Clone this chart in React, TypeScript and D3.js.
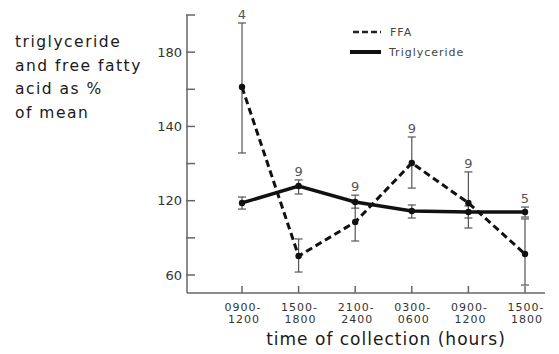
import React from 'react'
import * as d3 from 'd3'

// collection periods (two-line tick labels)
const periods = ['0900-|1200', '1500-|1800', '2100-|2400', '0300-|0600', '0900-|1200', '1500-|1800']

// free fatty acid, % of mean, with error bar ends
const ffaMean = [161.2, 70.2, 88.5, 120.3, 98.8, 71.3]
const ffaHigh = [195.7, 79.4, 98.8, 134.3, 115.5, 90.2]
const ffaLow = [125.7, 61.6, 78.3, 106.8, 85.3, 54.6]

// triglyceride, % of mean
const triMean = [98.8, 107.9, 99.3, 94.5, 93.9, 93.9]
const triHigh = [102, 111.2, 103, 97.7, 97.2, 96.6]
const triLow = [95.5, 103.6, 96, 90.7, 90.7, 91.2]

// number of subjects, and which series the label sits above
const counts = ['4', '9', '9', '9', '9', '5']
const countOn = ['ffa', 'tri', 'tri', 'ffa', 'ffa', 'tri']

// y ticks as printed on the original figure
const yTicks = [60, 80, 100, 120, 140, 160, 180, 200]
const yTickText: Record<number, string> = {60: '60', 100: '120', 140: '140', 180: '180'}

const yTitle = ['triglyceride', 'and free fatty', 'acid as %', 'of mean']

export default function App() {
  const width = 559
  const height = 354
  const axisX = 187
  const axisY = 293

  const x = d3
    .scalePoint<number>()
    .domain(d3.range(periods.length))
    .range([242, 525])

  const y = d3
    .scaleLinear()
    .domain([60, 200])
    .range([275, 15])

  const line = d3
    .line<number>()
    .x((d, i) => x(i) as number)
    .y(d => y(d))

  const font = "'DejaVu Sans', sans-serif"

  const errorBar = (i: number, lo: number, hi: number, key: string) => {
    const cx = x(i) as number
    return (
      <g key={key} stroke="#555" strokeWidth={1.2}>
        <line x1={cx} x2={cx} y1={y(lo)} y2={y(hi)} />
        <line x1={cx - 4} x2={cx + 4} y1={y(lo)} y2={y(lo)} />
        <line x1={cx - 4} x2={cx + 4} y1={y(hi)} y2={y(hi)} />
      </g>
    )
  }

  return (
    <svg width={width} height={height} style={{position: 'absolute', left: 0, top: 0}}>
      <rect width={width} height={height} fill="#fff" />

      {/* y axis title */}
      <text fontFamily={font} fontSize={15.5} fill="#1a1a1a" letterSpacing={1.5}>
        {yTitle.map((t, i) => (
          <tspan key={i} x={15} y={47 + i * 23.5}>
            {t}
          </tspan>
        ))}
      </text>

      {/* axes */}
      <g stroke="#666" strokeWidth={1.5}>
        <line x1={axisX} x2={axisX} y1={y(200)} y2={axisY} />
        <line x1={axisX} x2={545} y1={axisY} y2={axisY} />
        {yTicks.map(t => (
          <line key={t} x1={axisX - 1} x2={axisX + 8} y1={y(t)} y2={y(t)} />
        ))}
        {periods.map((p, i) => (
          <line key={i} x1={x(i)} x2={x(i)} y1={axisY} y2={axisY - 7} />
        ))}
      </g>
      {yTicks
        .filter(t => yTickText[t])
        .map(t => (
          <text
            key={t}
            x={182}
            y={y(t)}
            dy="0.36em"
            textAnchor="end"
            fontFamily={font}
            fontSize={13}
            fill="#333"
          >
            {yTickText[t]}
          </text>
        ))}
      {periods.map((p, i) => {
        const [a, b] = p.split('|')
        return (
          <text
            key={i}
            textAnchor="middle"
            fontFamily={font}
            fontSize={11}
            fill="#333"
            letterSpacing={1}
          >
            <tspan x={(x(i) as number) + 1} y={311}>
              {a}
            </tspan>
            <tspan x={(x(i) as number) + 2} y={323}>
              {b}
            </tspan>
          </text>
        )
      })}
      <text
        x={386}
        y={345}
        textAnchor="middle"
        fontFamily={font}
        fontSize={17}
        fill="#1a1a1a"
        letterSpacing={1}
      >
        time of collection (hours)
      </text>

      {/* error bars */}
      {ffaMean.map((d, i) => errorBar(i, ffaLow[i], ffaHigh[i], 'fe' + i))}
      {triMean.map((d, i) => errorBar(i, triLow[i], triHigh[i], 'te' + i))}

      {/* series */}
      <path
        d={line(ffaMean) as string}
        fill="none"
        stroke="#111"
        strokeWidth={3}
        strokeDasharray="7,4"
      />
      <path d={line(triMean) as string} fill="none" stroke="#111" strokeWidth={3.5} />
      {ffaMean.map((d, i) => (
        <circle key={'fp' + i} cx={x(i)} cy={y(d)} r={3.2} fill="#111" />
      ))}
      {triMean.map((d, i) => (
        <circle key={'tp' + i} cx={x(i)} cy={y(d)} r={3.2} fill="#111" />
      ))}

      {/* counts */}
      {counts.map((c, i) => (
        <text
          key={'n' + i}
          x={x(i)}
          y={y(countOn[i] === 'ffa' ? ffaHigh[i] : triHigh[i]) - 4}
          textAnchor="middle"
          fontFamily={font}
          fontSize={13}
          fill="#555"
        >
          {c}
        </text>
      ))}

      {/* legend */}
      <line x1={353} x2={381} y1={32} y2={32} stroke="#222" strokeWidth={2.5} strokeDasharray="6,3" />
      <text x={390} y={32} dy="0.35em" fontFamily={font} fontSize={11} fill="#444" letterSpacing={1}>
        FFA
      </text>
      <line x1={350} x2={381} y1={52} y2={52} stroke="#111" strokeWidth={4} />
      <text x={389} y={52} dy="0.35em" fontFamily={font} fontSize={11} fill="#444" letterSpacing={1}>
        Triglyceride
      </text>
    </svg>
  )
}
